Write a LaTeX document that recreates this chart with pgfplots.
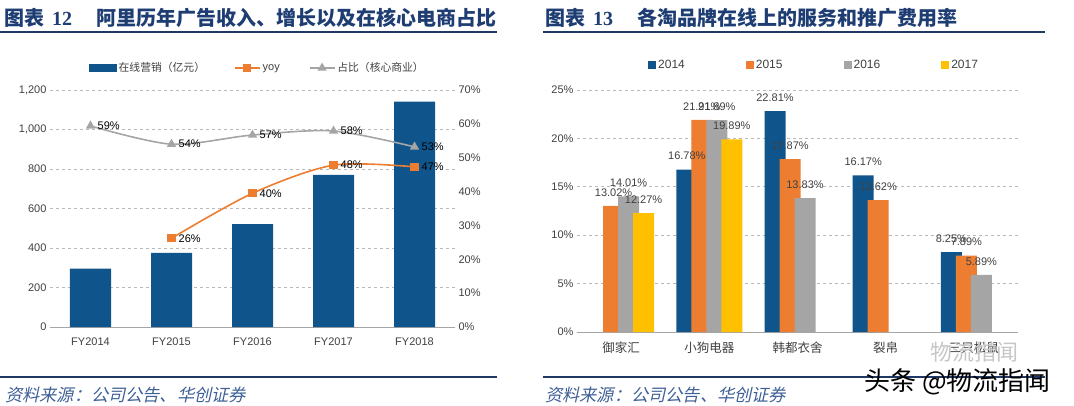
\documentclass[border=0pt]{standalone}
\usepackage{pgfplots}
\pgfplotsset{compat=1.18}
\usepackage{fontspec}
\setmainfont{Liberation Sans}
\newfontfamily\cjk{Noto Sans CJK SC}
\newfontfamily\cjkslant{Noto Sans CJK SC}[FakeSlant=0.22]
\newfontfamily\serif{Liberation Serif}
\definecolor{cblue}{HTML}{0F558C}
\definecolor{corange}{HTML}{ED7D31}
\definecolor{cgray}{HTML}{A5A5A5}
\definecolor{cyellow}{HTML}{FFC000}
\definecolor{ttl}{HTML}{1E3D73}
\definecolor{rulec}{HTML}{1F3864}
\definecolor{src}{HTML}{3E5F96}
\definecolor{txt}{HTML}{404040}
\pgfplotsset{
  common/.style={
    scale only axis, anchor=south west, clip=false,
    /pgf/number format/assume math mode=true,
    tick style={draw=none},
    ticklabel style={font=\fontsize{11}{13}\selectfont, text=txt},
    grid style={dash pattern=on 3pt off 3pt, gray!55, line width=0.7pt},
  },
  linleg/.style={legend image code/.code={\draw[mark repeat=2,mark phase=2,##1] plot coordinates {(0pt,0pt) (12.5pt,0pt) (25pt,0pt)};}},
  sqleg/.style={legend image code/.code={\fill[##1] (0pt,-4pt) rectangle (8pt,4pt);}},
  wideleg/.style={legend image code/.code={\fill[##1] (0pt,-4pt) rectangle (28pt,4pt);}},
  barlab/.style={nodes near coords={\pgfmathprintnumber[fixed,fixed zerofill,precision=2]{\pgfplotspointmeta}\%},
    every node near coord/.append style={text=txt, yshift=6pt, xshift=#1, font=\fontsize{11}{13}\selectfont}},
  linelab/.style={nodes near coords={\pgfplotspointmeta\%}, point meta=explicit symbolic,
    every node near coord/.append style={anchor=west, xshift=3pt, text=black, font=\fontsize{11}{13}\selectfont}},
}
\begin{document}
\begin{tikzpicture}
\path[use as bounding box] (0pt,0pt) rectangle (1074pt,-406pt);
% titles and rules
\node[anchor=west, inner sep=0pt, text=ttl] at (4pt,-17.5pt) {\cjk\bfseries\fontsize{20}{22}\selectfont 图表\hspace{8pt}{\serif\bfseries 12}\hspace{24pt}阿里历年广告收入、增长以及在核心电商占比};
\node[anchor=west, inner sep=0pt, text=ttl] at (545pt,-17.5pt) {\cjk\bfseries\fontsize{20}{22}\selectfont 图表\hspace{8pt}{\serif\bfseries 13}\hspace{24pt}各淘品牌在线上的服务和推广费用率};
\draw[rulec, line width=2pt] (0pt,-32pt) -- (497pt,-32pt);
\draw[rulec, line width=2pt] (543pt,-32pt) -- (1045pt,-32pt);
\draw[rulec, line width=2pt] (0pt,-377pt) -- (497pt,-377pt);
\draw[rulec, line width=2pt] (543pt,-377pt) -- (1045pt,-377pt);
\node[anchor=west, inner sep=0pt, text=src] at (5pt,-395pt) {\cjkslant\fontsize{17.2}{19}\selectfont 资料来源：公司公告、华创证券};
\node[anchor=west, inner sep=0pt, text=src] at (545pt,-395pt) {\cjkslant\fontsize{17.2}{19}\selectfont 资料来源：公司公告、华创证券};

% ---------- left chart: bars ----------
\begin{axis}[common, at={(50pt,-327pt)}, width=405pt, height=237pt,
  xmin=-0.5, xmax=4.5, ymin=0, ymax=1200, ytick={0,200,...,1200},
  xtick={0,...,4}, xticklabels={FY2014,FY2015,FY2016,FY2017,FY2018},
  axis x line*=bottom, axis y line*=left, y axis line style={draw=none},
  x axis line style={gray!70, line width=0.8pt, -},
  ymajorgrids, xticklabel style={yshift=-7pt}]
\addplot[ybar, bar width=41pt, fill=cblue, draw=none] coordinates {(0,296) (1,375) (2,521) (3,770) (4,1141)};
\end{axis}
% ---------- left chart: lines ----------
\begin{axis}[common, at={(50pt,-327pt)}, width=405pt, height=237pt,
  xmin=-0.5, xmax=4.5, ymin=0, ymax=70, ytick={0,10,...,70},
  yticklabel={\pgfmathprintnumber{\tick}\%},
  axis x line=none, axis y line*=right, y axis line style={draw=none},
  legend columns=3,
  legend style={at={(0.095,1.093)}, anchor=west, draw=none, fill=none, inner sep=0pt,
    font=\fontsize{11}{13}\selectfont, text=txt,
    /tikz/every even column/.append style={column sep=27pt}}]
\addlegendimage{wideleg, fill=cblue, draw=none}
\addlegendentry{\cjk\fontsize{10.8}{13}\selectfont 在线营销（亿元）}
\addplot[corange, line width=1.6pt, smooth, mark=square*, mark size=3.3pt, linleg, linelab]
  table[meta=l] {
x y l
1 26.2 26
2 39.5 40
3 47.8 48
4 47.3 47
};
\addlegendentry{yoy}
\addplot[cgray, line width=1.6pt, smooth, mark=triangle*, mark size=3.8pt, linleg, linelab]
  table[meta=l] {
x y l
0 59.4 59
1 54.0 54
2 56.7 57
3 57.9 58
4 53.2 53
};
\addlegendentry{\cjk\fontsize{10.8}{13}\selectfont 占比（核心商业）}
\end{axis}

% ---------- right chart ----------
\begin{axis}[common, at={(577pt,-332pt)}, width=441pt, height=242pt,
  xmin=-0.5, xmax=4.5, ymin=0, ymax=25, ytick={0,5,...,25},
  yticklabel={\pgfmathprintnumber{\tick}\%},
  xtick={0,...,4}, xticklabels={御家汇,小狗电器,韩都衣舍,裂帛,三只松鼠},
  xticklabel style={font=\cjk\fontsize{12.5}{14}\selectfont, yshift=-6pt},
  axis x line*=bottom, axis y line*=left, y axis line style={draw=none},
  x axis line style={gray!70, line width=0.8pt, -},
  ymajorgrids,
  legend columns=4,
  legend style={at={(0.161,1.103)}, anchor=west, draw=none, fill=none, inner sep=0pt,
    font=\fontsize{12}{14}\selectfont, text=txt,
    /tikz/every even column/.append style={column sep=59pt}}]
\addplot[ybar, bar width=21pt, draw=none, sqleg, barlab=-22.5pt, fill=cblue, bar shift=-22.5pt] coordinates {(1,16.78) (2,22.81) (3,16.17) (4,8.25)};
\addlegendentry{2014}
\addplot[ybar, bar width=21pt, draw=none, sqleg, barlab=-7.5pt, fill=corange, bar shift=-7.5pt] coordinates {(0,13.02) (1,21.91) (2,17.87) (3,13.62) (4,7.89)};
\addlegendentry{2015}
\addplot[ybar, bar width=21pt, draw=none, sqleg, barlab=7.5pt, fill=cgray, bar shift=7.5pt] coordinates {(0,14.01) (1,21.89) (2,13.83) (4,5.89)};
\addlegendentry{2016}
\addplot[ybar, bar width=21pt, draw=none, sqleg, barlab=22.5pt, fill=cyellow, bar shift=22.5pt] coordinates {(0,12.27) (1,19.89)};
\addlegendentry{2017}
\end{axis}

% watermark
\node[anchor=west, inner sep=0pt, text=gray!45] at (930pt,-352pt) {\cjk\fontsize{22}{24}\selectfont 物流指闻};
\node[anchor=west, inner sep=0pt, text=black] at (864pt,-382pt) {\cjk\fontsize{26}{28}\selectfont 头条 @物流指闻};
\end{tikzpicture}
\end{document}
